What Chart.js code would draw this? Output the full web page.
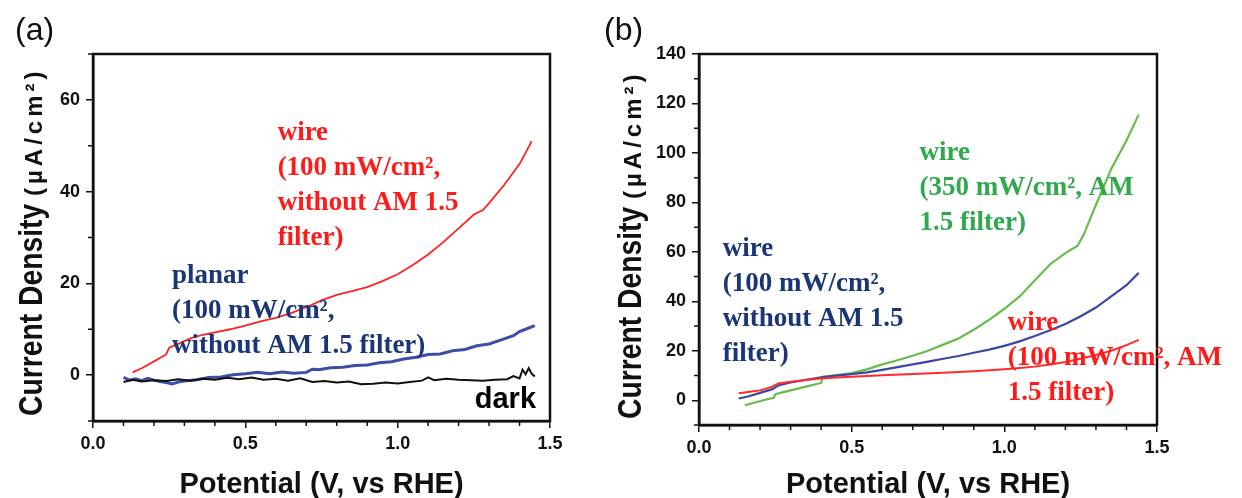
<!DOCTYPE html>
<html>
<head>
<meta charset="utf-8">
<script src="https://cdn.jsdelivr.net/npm/chart.js@4"></script>
<style>
  html, body { margin: 0; padding: 0; background: #fff; }
  #wrap { position: relative; width: 1242px; height: 498px; overflow: hidden; }
  #chartA { position: absolute; left: 0; top: 0; }
  #chartB { position: absolute; left: 600px; top: 0; }
</style>
</head>
<body>
<div id="wrap">
  <canvas id="chartA" width="600" height="498"></canvas>
  <canvas id="chartB" width="642" height="498"></canvas>
</div>
<script>
// ================= DATOS =================

// Panel (a)
const aWireX = [0.13,0.16,0.20,0.24,0.25,0.28,0.32,0.36,0.40,0.45,0.50,0.55,0.60,0.65,0.70,0.75,0.80,0.85,0.90,0.95,1.00,1.05,1.10,1.15,1.20,1.25,1.28,1.30,1.35,1.40,1.44];
const aWireY = [0.6,1.5,3.0,4.5,6.0,6.8,8.0,8.8,9.3,10.0,10.8,11.7,12.5,13.5,14.8,16.3,17.5,18.3,19.2,20.5,22.0,24.0,26.3,29.0,32.0,35.0,36.0,37.5,41.5,46.0,51.0];

const aPlanarX = [0.10,0.12,0.14,0.16,0.18,0.20,0.22,0.24,0.26,0.28,0.30,0.34,0.38,0.42,0.46,0.50,0.54,0.58,0.62,0.66,0.70,0.72,0.74,0.78,0.82,0.86,0.90,0.94,0.98,1.02,1.06,1.10,1.14,1.18,1.22,1.26,1.30,1.34,1.38,1.40,1.42,1.45];
const aPlanarY = [-0.5,-1.1,-0.8,-1.2,-0.7,-1.1,-1.4,-1.6,-1.9,-1.5,-1.3,-1.0,-0.5,-0.4,0.1,0.3,0.6,0.3,0.7,0.4,0.6,1.3,1.2,1.6,1.7,2.1,2.2,2.7,2.9,3.5,3.9,4.5,4.6,5.3,5.6,6.4,6.8,7.7,8.6,9.5,10.0,10.8];

const aDarkX = [0.10,0.13,0.16,0.20,0.24,0.28,0.32,0.36,0.40,0.44,0.48,0.52,0.56,0.60,0.64,0.68,0.72,0.76,0.80,0.84,0.88,0.92,0.96,1.00,1.04,1.08,1.10,1.12,1.16,1.20,1.24,1.28,1.32,1.36,1.38,1.40,1.41,1.42,1.43,1.44,1.45];
const aDarkY = [-1.5,-1.0,-1.4,-1.1,-1.3,-0.9,-1.2,-0.8,-1.0,-0.6,-0.9,-0.5,-1.0,-0.8,-1.2,-0.7,-1.5,-1.3,-1.6,-1.4,-2.0,-1.9,-1.6,-1.8,-1.5,-1.2,-0.5,-1.1,-0.8,-1.0,-1.1,-1.2,-1.0,-0.9,-0.2,-0.7,1.2,0.2,1.5,0.3,-0.3];

// Panel (b)
const bGreenX = [0.15,0.18,0.22,0.245,0.25,0.30,0.35,0.40,0.405,0.45,0.50,0.55,0.60,0.65,0.70,0.75,0.80,0.85,0.90,0.95,1.00,1.05,1.10,1.15,1.20,1.24,1.26,1.30,1.35,1.40,1.44];
const bGreenY = [-2.0,-1.0,0.3,1.0,2.5,4.0,5.5,7.0,9.5,10.2,11.0,12.5,14.5,16.2,18.0,20.0,22.5,25.0,28.5,32.5,37.0,42.0,48.5,55.0,59.5,62.5,67.0,79.0,93.5,105.0,115.5];

const bBlueX = [0.13,0.16,0.20,0.24,0.26,0.30,0.35,0.40,0.45,0.50,0.55,0.60,0.65,0.70,0.75,0.80,0.85,0.90,0.95,1.00,1.05,1.10,1.15,1.20,1.25,1.30,1.35,1.40,1.44];
const bBlueY = [0.7,1.5,3.0,4.5,6.0,7.2,8.3,9.3,10.0,10.6,11.3,12.3,13.4,14.5,15.6,16.8,17.9,19.2,20.5,22.0,23.8,26.0,28.3,30.8,34.0,37.5,42.0,46.5,51.5];

const bRedX = [0.13,0.16,0.20,0.24,0.26,0.30,0.35,0.40,0.45,0.50,0.55,0.60,0.70,0.80,0.90,1.00,1.05,1.10,1.15,1.20,1.25,1.30,1.35,1.40,1.44];
const bRedY = [2.8,3.3,4.0,5.5,6.8,7.5,8.2,8.8,9.2,9.5,9.8,10.1,10.6,11.1,11.7,12.5,13.0,13.6,14.5,15.5,16.8,18.3,20.0,22.3,24.4];

// Ejes
const xTitle = "Potential (V, vs RHE)";
const yTitleMain = "Current Density ";
const yTitleUnit = "(\u00b5A/cm\u00b2)";

// Anotaciones: [x, y, color, fuente, líneas]
const serif = "bold 27px 'Liberation Serif', 'Times New Roman', serif";
const sans = "bold 29px 'Liberation Sans', Arial, sans-serif";
const notesA = [
  [0.606, 52.7, "#ff1a1a", serif, ["wire", "(100 mW/cm\u00b2,", "without AM 1.5", "filter)"]],
  [0.259, 21.7, "#1b3579", serif, ["planar", "(100 mW/cm\u00b2,", "without AM 1.5 filter)"]],
  [1.253, -5.4, "#000000", sans, ["dark"]]
];
const notesB = [
  [0.722, 99.8, "#2eaa4c", serif, ["wire", "(350 mW/cm\u00b2, AM", "1.5 filter)"]],
  [0.078, 61.2, "#1b3579", serif, ["wire", "(100 mW/cm\u00b2,", "without AM 1.5", "filter)"]],
  [1.011, 31.1, "#ff1a1a", serif, ["wire", "(100 mW/cm\u00b2, AM", "1.5 filter)"]]
];

// ================= FUNCIONES =================

function pares(xs, ys) {
  return xs.map((x, i) => ({ x: x, y: ys[i] }));
}

function serie(xs, ys, color, ancho) {
  return {
    data: pares(xs, ys),
    borderColor: color,
    backgroundColor: color,
    borderWidth: ancho,
    pointRadius: 0,
    tension: 0,
    fill: false
  };
}

const esMayorX = v => Math.abs(v * 2 - Math.round(v * 2)) < 1e-6;
const esMayorY = v => Math.abs(v % 20) < 1e-6;

// Marco, ticks menores, títulos y anotaciones
function plugPanel(letra, yTitleX, yTitleBottom, notas) {
  return {
    id: "panel" + letra,
    afterDatasetsDraw(chart) {
      const ctx = chart.ctx;
      const a = chart.chartArea;
      const sx = chart.scales.x, sy = chart.scales.y;
      ctx.save();

      // marco
      ctx.strokeStyle = "#111";
      ctx.lineWidth = 2.5;
      ctx.strokeRect(a.left, a.top, a.right - a.left, a.bottom - a.top);

      // ticks menores (más cortos)
      ctx.lineWidth = 1.5;
      ctx.beginPath();
      sx.ticks.forEach(t => {
        if (esMayorX(t.value)) return;
        const p = sx.getPixelForValue(t.value);
        ctx.moveTo(p, a.bottom);
        ctx.lineTo(p, a.bottom + 5);
      });
      sy.ticks.forEach(t => {
        if (esMayorY(t.value)) return;
        const p = sy.getPixelForValue(t.value);
        ctx.moveTo(a.left, p);
        ctx.lineTo(a.left - 5, p);
      });
      ctx.stroke();

      // anotaciones
      notas.forEach(n => {
        ctx.fillStyle = n[2];
        ctx.font = n[3];
        ctx.textAlign = "left";
        ctx.textBaseline = "middle";
        const px = sx.getPixelForValue(n[0]);
        const py = sy.getPixelForValue(n[1]);
        n[4].forEach((t, i) => ctx.fillText(t, px, py + i * 35));
      });

      // título x
      ctx.fillStyle = "#111";
      ctx.font = "bold 29px 'Liberation Sans', Arial, sans-serif";
      ctx.textAlign = "center";
      ctx.textBaseline = "middle";
      ctx.fillText(xTitle, (a.left + a.right) / 2, 485);

      // título y (fuente alta y estrecha como en la figura)
      ctx.translate(yTitleX, yTitleBottom);
      ctx.rotate(-Math.PI / 2);
      ctx.textAlign = "left";
      ctx.textBaseline = "alphabetic";
      ctx.font = "bold 33px 'Liberation Sans', Arial, sans-serif";
      const w0 = ctx.measureText(yTitleMain).width;
      const k = 220 / w0;
      ctx.save();
      ctx.scale(k, 1);
      ctx.fillText(yTitleMain, 0, 0);
      ctx.restore();
      ctx.font = "bold 24px 'Liberation Sans', Arial, sans-serif";
      ctx.letterSpacing = "4px";
      ctx.fillText(yTitleUnit, 220, 0);
      ctx.letterSpacing = "0px";
      ctx.setTransform(1, 0, 0, 1, 0, 0);

      // letra del panel
      ctx.font = "32px 'Liberation Sans', Arial, sans-serif";
      ctx.textAlign = "left";
      ctx.textBaseline = "middle";
      ctx.fillText("(" + letra + ")", letra === "a" ? 15 : 4, 31);
      ctx.restore();
    }
  };
}

function crearPanel(id, datasets, yMax, yWidth, xHeight, padRight, plugin) {
  const tickFont = { family: "'Liberation Sans', Arial, sans-serif", size: 18, weight: "bold" };
  return new Chart(document.getElementById(id), {
    type: "line",
    data: { datasets: datasets },
    options: {
      responsive: false,
      animation: false,
      layout: { padding: { top: 54, right: padRight, left: 0, bottom: 0 } },
      plugins: { legend: { display: false }, tooltip: { enabled: false } },
      scales: {
        x: {
          type: "linear",
          min: 0, max: 1.5,
          afterFit: s => { s.height = xHeight; },
          border: { display: true, color: "#111", width: 2.5 },
          grid: {
            drawOnChartArea: false, drawTicks: true, tickLength: 7, lineWidth: 1.5,
            tickColor: c => esMayorX(c.tick.value) ? "#111" : "rgba(0,0,0,0)"
          },
          ticks: {
            stepSize: 0.1, autoSkip: false, maxRotation: 0, color: "#111", font: tickFont, padding: 5,
            callback: v => esMayorX(v) ? v.toFixed(1) : ""
          }
        },
        y: {
          type: "linear",
          min: -10, max: yMax,
          afterFit: s => { s.width = yWidth; },
          border: { display: true, color: "#111", width: 2.5 },
          grid: {
            drawOnChartArea: false, drawTicks: true, tickLength: 7, lineWidth: 1.5,
            tickColor: c => esMayorY(c.tick.value) ? "#111" : "rgba(0,0,0,0)"
          },
          ticks: {
            stepSize: 10, autoSkip: false, color: "#111", font: tickFont, padding: 6,
            callback: v => (v >= 0 && esMayorY(v)) ? String(v) : ""
          }
        }
      }
    },
    plugins: [plugin]
  });
}

// ================= GRÁFICAS =================

crearPanel("chartA", [
  serie(aDarkX, aDarkY, "#111111", 2),
  serie(aPlanarX, aPlanarY, "#3c4fa6", 3),
  serie(aWireX, aWireY, "#ff2222", 1.8)
], 70, 93, 77, 50, plugPanel("a", 42, 416, notesA));

crearPanel("chartB", [
  serie(bRedX, bRedY, "#ff2a2a", 2),
  serie(bBlueX, bBlueY, "#3a47a3", 2.2),
  serie(bGreenX, bGreenY, "#69bb4a", 2.2)
], 140, 99, 73, 85, plugPanel("b", 41, 419, notesB));
</script>
</body>
</html>
